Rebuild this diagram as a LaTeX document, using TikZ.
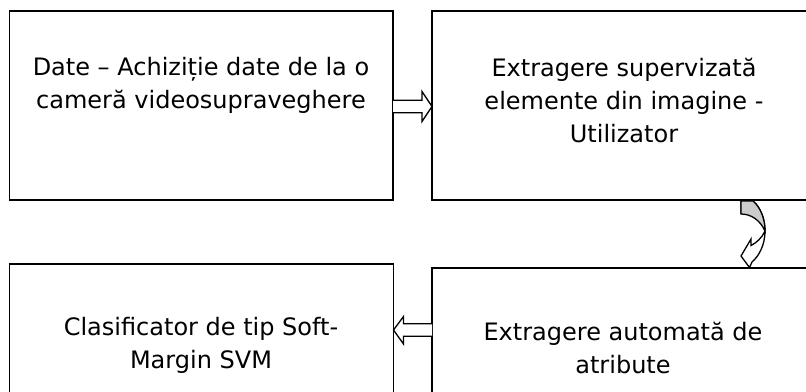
\documentclass[tikz,border=0pt]{standalone}
\usepackage{fontspec}
\setmainfont{DejaVu Sans}
\usetikzlibrary{calc}
\begin{document}
\begin{tikzpicture}[x=1pt,y=-1pt,
  box/.style={draw=black, line width=1.5pt, rectangle, inner sep=0pt, outer sep=0pt},
  lbl/.style={font=\fontsize{24}{33}\selectfont, align=center, inner sep=0pt, anchor=base, text=black},
  blockarrow/.style={draw=black, fill=white, line width=1.3pt, line join=miter},
  shade/.style={draw=black, fill=gray!40, line width=1.3pt}]
\useasboundingbox (0,0) rectangle (806,391);
\clip (0,0) rectangle (806,391);

% process boxes (the right and lower ones run past the page edge)
\node[box, minimum width=383.5pt, minimum height=189pt] (A) at (201.25,105.5) {};
\node[box, minimum width=384pt, minimum height=189pt] (B) at (624,105.5) {};
\node[box, minimum width=384pt, minimum height=189pt] (C) at (201.5,358.5) {};
\node[box, minimum width=384pt, minimum height=189pt] (D) at (624,362.5) {};

% box texts (placed by the baseline of their last line)
\node[lbl] (tA) at (201,108) {Date – Achiziție date de la o\\cameră videosupraveghere};
\node[lbl] (tB) at (624,142) {Extragere supervizată\\elemente din imagine -\\Utilizator};
\node[lbl] (tC) at (201,368) {Clasificator de tip Soft-\\Margin SVM};
\node[lbl] (tD) at (623,373) {Extragere automată de\\atribute};

% block arrow A -> B
\coordinate (a1) at (A.east |- 0,106.5);
\coordinate (b1) at (B.west |- 0,106.5);
\draw[blockarrow] ($(a1)+(0,-6.3)$) -- ($(b1)+(-10,-6.3)$) -- ($(b1)+(-10,-15)$)
  -- (b1) -- ($(b1)+(-10,15)$) -- ($(b1)+(-10,6.3)$) -- ($(a1)+(0,6.3)$);

% block arrow D -> C
\coordinate (c1) at (C.east |- 0,330);
\coordinate (d1) at (D.west |- 0,330);
\draw[blockarrow] ($(d1)+(0,-6.3)$) -- ($(c1)+(10,-6.3)$) -- ($(c1)+(10,-13.5)$)
  -- (c1) -- ($(c1)+(10,14)$) -- ($(c1)+(10,6.3)$) -- ($(d1)+(0,6.3)$);

% curved arrow B -> D
\draw[blockarrow] (741,214) -- (741,201) -- (753,201)
  .. controls (760,207) and (765,218) .. (765,231)
  .. controls (765,245) and (759,256) .. (752,262)
  -- (749.5,267.5) -- (741,256) -- (751,239) -- (751,245.5)
  .. controls (756,243) and (762,238) .. (765,231);
\draw[shade] (741,214) -- (741,201) -- (753,201)
  .. controls (760,207) and (765,218) .. (765,231)
  .. controls (760,220) and (751,214) .. cycle;
\end{tikzpicture}
\end{document}
